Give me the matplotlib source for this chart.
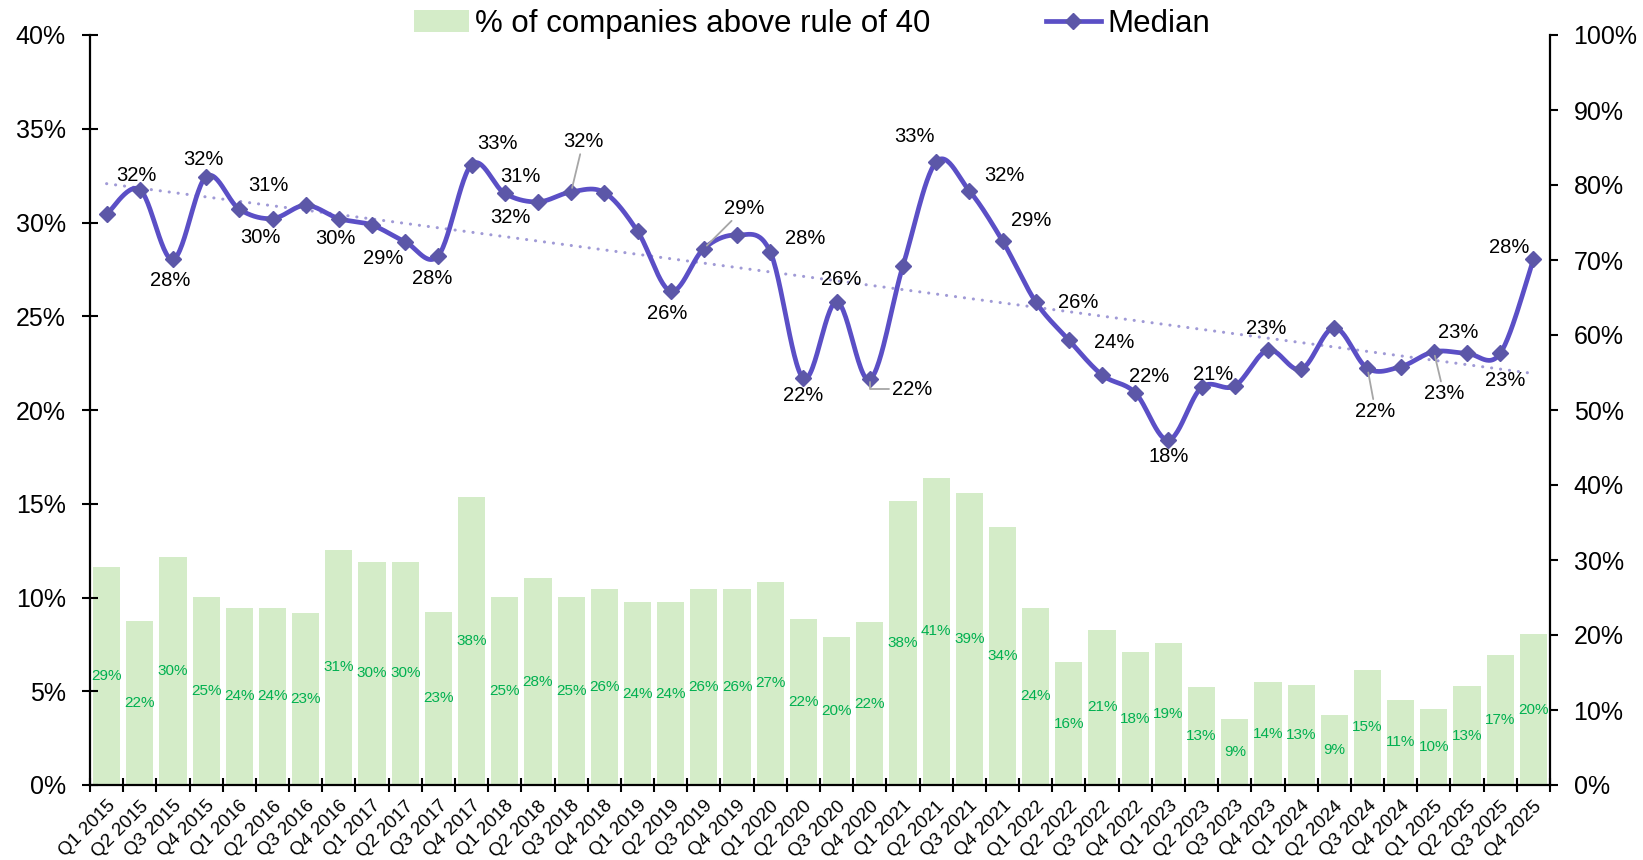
import numpy as np
import matplotlib.pyplot as plt
from matplotlib.lines import Line2D
from matplotlib.patches import Patch
from matplotlib.ticker import PercentFormatter, MultipleLocator

plt.rcParams['font.family'] = ['Liberation Sans', 'DejaVu Sans']

quarters = ["Q%d %d" % (q, y) for y in range(2015, 2026) for q in range(1, 5)]

# median rule-of-40 score (left axis, %)
median = [30.43, 31.76, 28.03, 32.45, 30.71, 30.21, 30.92, 30.21,
          29.86, 28.97, 28.24, 33.09, 31.55, 31.10, 31.63, 31.60,
          29.54, 26.34, 28.61, 29.33, 28.44, 21.69, 25.77, 21.63,
          27.69, 33.23, 31.69, 29.02, 25.77, 23.73, 21.87, 20.92,
          18.40, 21.21, 21.28, 23.20, 22.17, 24.39, 22.22, 22.31,
          23.11, 23.02, 23.02, 28.03]

# % of companies above rule of 40 (right axis, %)
share_above = [29.1, 21.9, 30.4, 25.1, 23.6, 23.6, 22.9, 31.4,
               29.8, 29.8, 23.1, 38.4, 25.1, 27.6, 25.1, 26.2,
               24.4, 24.4, 26.1, 26.1, 27.1, 22.1, 19.7, 21.7,
               37.9, 41.0, 38.9, 34.4, 23.6, 16.4, 20.7, 17.7,
               18.9, 13.1, 8.8, 13.7, 13.4, 9.3, 15.4, 11.4,
               10.2, 13.2, 17.3, 20.1]

# which median points carry a label, and where the label sits (pixels, y down)
label_offsets = {1: (-3, -14), 2: (-3, 21), 3: (-3, -17), 4: (29, -24),
                 5: (-12, 19), 7: (-3, 20), 9: (-22, 17), 10: (-6, 23),
                 11: (26, -21), 12: (6, 24), 13: (-18, -25), 14: (12, -50),
                 17: (-3, 22), 18: (40, -40), 20: (35, -13), 21: (0, 17),
                 22: (5, -22), 23: (42, 10), 25: (-22, -25), 26: (35, -15),
                 27: (29, -20), 28: (43, 1), 29: (45, 2), 30: (47, 2),
                 32: (0, 16), 33: (12, -13), 35: (-2, -22), 38: (8, 43),
                 40: (10, 42), 41: (-9, -21), 42: (5, 27), 43: (-24, -12)}
leader_lines = [14, 18, 38, 40]
elbow_leaders = [23]

line_col = '#5B4FC6'
marker_col = '#5C57A8'
bar_col = '#D4ECC8'
bar_txt = '#00B050'
trend_col = '#A09AD6'


def smooth(xs, ys, n=30):
    # catmull-rom style bezier, like a spreadsheet "smoothed line"
    xs = np.asarray(xs, float)
    ys = np.asarray(ys, float)
    px = np.concatenate([[xs[0]], xs, [xs[-1]]])
    py = np.concatenate([[ys[0]], ys, [ys[-1]]])
    out_x, out_y = [], []
    t = np.linspace(0, 1, n)
    for i in range(1, len(px) - 2):
        p0 = np.array([px[i], py[i]])
        p3 = np.array([px[i + 1], py[i + 1]])
        c1 = p0 + (p3 - np.array([px[i - 1], py[i - 1]])) / 6
        c2 = p3 - (np.array([px[i + 2], py[i + 2]]) - p0) / 6
        b = ((1 - t) ** 3)[:, None] * p0 + (3 * (1 - t) ** 2 * t)[:, None] * c1 \
            + (3 * (1 - t) * t ** 2)[:, None] * c2 + (t ** 3)[:, None] * p3
        out_x.extend(b[:, 0])
        out_y.extend(b[:, 1])
    return np.array(out_x), np.array(out_y)


x = np.arange(len(quarters))

fig = plt.figure(figsize=(16.43, 8.6), dpi=100)
ax = fig.add_axes([90 / 1643, 75 / 860, 1460 / 1643, 750 / 860])
ax2 = ax.twinx()
ax.set_zorder(ax2.get_zorder() + 1)
ax.patch.set_visible(False)

# bars on the right axis
bars = ax2.bar(x, share_above, width=0.82, color=bar_col, zorder=1)
for xi, v in zip(x, share_above):
    ax2.text(xi, v / 2, "%d%%" % round(v), ha='center', va='center',
             color=bar_txt, fontsize=11)

# median line on the left axis
sx, sy = smooth(x, median)
ax.plot(sx, sy, color=line_col, lw=3.4, solid_capstyle='round', zorder=3)
ax.plot(x, median, ls='none', marker='D', ms=8.5, color=marker_col, zorder=4)

# linear trend
k, b0 = np.polyfit(x, median, 1)
ax.plot([x[0], x[-1]], [k * x[0] + b0, k * x[-1] + b0], color=trend_col,
        lw=2.2, ls=(0, (0.05, 2.9)), dash_capstyle='round', zorder=2)

for i, (dx, dy) in label_offsets.items():
    kw = {}
    if i in leader_lines:
        kw['arrowprops'] = dict(arrowstyle='-', color='#A6A6A6', lw=1.3,
                                shrinkA=0, shrinkB=3)
    elif i in elbow_leaders:
        kw['arrowprops'] = dict(arrowstyle='-', color='#A6A6A6', lw=1.3,
                                shrinkA=0, shrinkB=2, relpos=(0, 0.5),
                                connectionstyle='angle,angleA=0,angleB=90,rad=0')
    ax.annotate("%d%%" % round(median[i]), xy=(x[i], median[i]),
                xytext=(dx, -dy), textcoords='offset pixels',
                ha='center', va='center', fontsize=14.5, color='black',
                zorder=5, **kw)

ax.set_xlim(-0.5, len(quarters) - 0.5)
ax.set_ylim(0, 40)
ax2.set_ylim(0, 100)
ax.yaxis.set_major_locator(MultipleLocator(5))
ax2.yaxis.set_major_locator(MultipleLocator(10))
ax.yaxis.set_major_formatter(PercentFormatter(decimals=0))
ax2.yaxis.set_major_formatter(PercentFormatter(decimals=0))

ax.set_xticks(np.arange(-0.5, len(quarters), 1.0))
ax.set_xticklabels([])
ax.set_xticks(x, minor=True)
ax.set_xticklabels(quarters, minor=True, rotation=45, ha='right',
                   rotation_mode='anchor', fontsize=13.5)
ax.tick_params(axis='x', which='minor', length=0, pad=9)
ax.tick_params(axis='x', which='major', direction='inout', length=10, width=1.5)
ax.tick_params(axis='y', direction='inout', length=11, width=1.5, labelsize=18, pad=12)
ax2.tick_params(axis='y', direction='out', length=6, width=1.5, labelsize=18, pad=11)

for a in (ax, ax2):
    a.spines['top'].set_visible(False)
    for s in ('left', 'right', 'bottom'):
        a.spines[s].set_linewidth(1.6)
ax.spines['right'].set_visible(False)
ax2.spines['left'].set_visible(False)
ax2.spines['bottom'].set_visible(False)

handles = [Patch(facecolor=bar_col, edgecolor='none'),
           Line2D([], [], color=line_col, lw=3.4, marker='D', ms=8.5,
                  markerfacecolor=marker_col, markeredgecolor=marker_col)]
fig.legend(handles, ["% of companies above rule of 40", "Median"],
           loc='center', bbox_to_anchor=(812 / 1643, 1 - 24 / 860), ncol=2,
           frameon=False, fontsize=22.5, handlelength=1.75,
           handletextpad=0.2, columnspacing=3.7, borderaxespad=0)

fig.savefig("out.png", dpi=100)
